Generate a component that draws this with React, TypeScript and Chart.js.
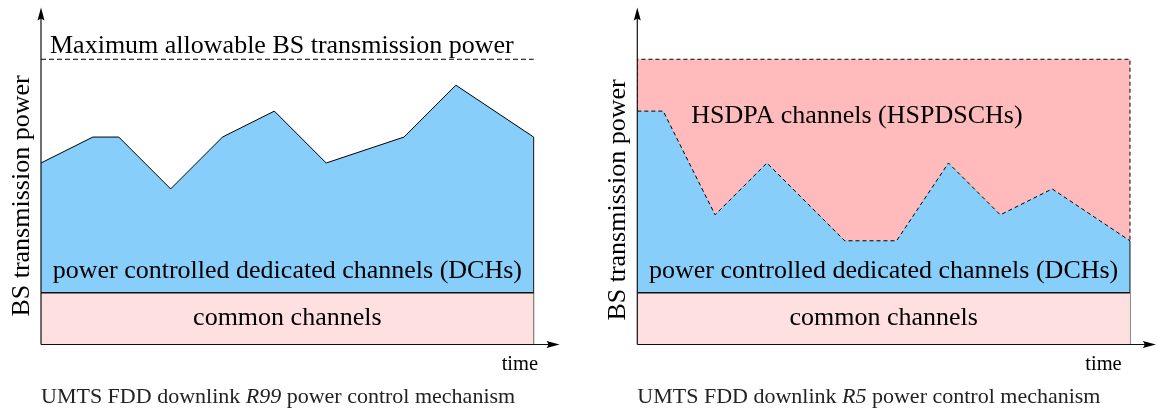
import React, { useEffect, useRef } from 'react';
import { Chart, registerables } from 'chart.js';

Chart.register(...registerables);

// ---- data ----
const leftTimes = [0, 2, 3, 5, 7, 9, 11, 14, 16, 19];
const leftDch = [7, 8, 8, 6, 8, 9, 7, 8, 10, 8];
const rightTimes = [0, 1, 3, 5, 8, 10, 12, 14, 16, 19];
const rightDch = [9, 9, 5, 7, 4, 4, 7, 5, 6, 4];
const commonLevel = 2;
const maxPower = 11;
const timeStart = 0;
const timeEnd = 19;
const axisXMax = 20;
const axisYMax = 13;

const yTitle = 'BS transmission power';
const xTitle = 'time';
const maxLabel = 'Maximum allowable BS transmission power';
const dchLabel = 'power controlled dedicated channels (DCHs)';
const commonLabel = 'common channels';
const hsdpaLabel = 'HSDPA channels (HSPDSCHs)';
const leftCaption = ['UMTS FDD downlink ', 'R99', ' power control mechanism'];
const rightCaption = ['UMTS FDD downlink ', 'R5', ' power control mechanism'];

const BLUE = '#87CEFA';
const HSDPA_PINK = '#FFBBBB';
const COMMON_PINK = '#FFE0E0';
const SERIF = '"Liberation Serif", "Times New Roman", serif';

const pts = (xs: number[], ys: number[]) => xs.map((x, i) => ({ x, y: ys[i] }));

type PanelKind = 'left' | 'right';

function makePlugin(kind: PanelKind) {
  return {
    id: 'annot_' + kind,
    afterDatasetsDraw(chart: any) {
      const { ctx } = chart;
      const xs = chart.scales.x;
      const ys = chart.scales.y;
      const x0 = xs.getPixelForValue(0);
      const y0 = ys.getPixelForValue(0);
      const xEnd = xs.getPixelForValue(axisXMax);
      const yTop = ys.getPixelForValue(axisYMax);
      const xLast = xs.getPixelForValue(timeEnd);
      const xMid = xs.getPixelForValue((timeStart + timeEnd) / 2);

      ctx.save();
      // axes
      ctx.strokeStyle = '#111';
      ctx.fillStyle = '#000';
      ctx.lineWidth = 1.2;
      ctx.setLineDash([]);
      ctx.beginPath();
      ctx.moveTo(x0, y0);
      ctx.lineTo(x0, yTop + 10);
      ctx.moveTo(x0, y0);
      ctx.lineTo(xEnd - 10, y0);
      ctx.stroke();
      // arrowheads
      ctx.beginPath();
      ctx.moveTo(x0, yTop);
      ctx.lineTo(x0 - 3.5, yTop + 13);
      ctx.lineTo(x0, yTop + 11);
      ctx.lineTo(x0 + 3.5, yTop + 13);
      ctx.closePath();
      ctx.fill();
      ctx.beginPath();
      ctx.moveTo(xEnd, y0);
      ctx.lineTo(xEnd - 13, y0 - 3.5);
      ctx.lineTo(xEnd - 11, y0);
      ctx.lineTo(xEnd - 13, y0 + 3.5);
      ctx.closePath();
      ctx.fill();

      // texts
      ctx.fillStyle = '#000';
      ctx.font = '26px ' + SERIF;
      ctx.textBaseline = 'alphabetic';

      // y title
      ctx.save();
      ctx.translate(x0 - 12, kind === 'left' ? 196 : 200);
      ctx.rotate(-Math.PI / 2);
      ctx.textAlign = 'center';
      ctx.fillText(yTitle, 0, 0);
      ctx.restore();

      const yCommon = ys.getPixelForValue(commonLevel);
      const yMax = ys.getPixelForValue(maxPower);

      ctx.textAlign = 'center';
      ctx.fillText(dchLabel, xMid, yCommon - 14.5);
      ctx.fillText(commonLabel, xMid, y0 - 19.5);

      ctx.textAlign = 'left';
      if (kind === 'left') {
        ctx.fillText(maxLabel, x0 + 9, yMax - 6.3);
      } else {
        ctx.fillText(hsdpaLabel, x0 + 54, yMax + 63.5);
      }

      // time label
      ctx.font = '20.5px ' + SERIF;
      ctx.textAlign = 'left';
      ctx.fillText(xTitle, kind === 'left' ? xLast - 32 : xLast - 44.7, y0 + 25.5);

      // caption
      const cap = kind === 'left' ? leftCaption : rightCaption;
      ctx.fillStyle = '#222';
      let cx = x0;
      const cy = y0 + 58.5;
      cap.forEach((part, i) => {
        ctx.font = (i === 1 ? 'italic ' : '') + '22px ' + SERIF;
        ctx.fillText(part, cx, cy);
        cx += ctx.measureText(part).width;
      });
      ctx.restore();
    },
  };
}

function buildDatasets(kind: PanelKind) {
  const common = {
    data: [
      { x: timeStart, y: commonLevel },
      { x: timeEnd, y: commonLevel },
    ],
    fill: 'origin',
    backgroundColor: COMMON_PINK,
    borderColor: '#111',
    borderWidth: 1.5,
    order: 0,
  };
  if (kind === 'left') {
    return [
      common,
      {
        data: [
          { x: timeEnd, y: 0 },
          { x: timeEnd, y: leftDch[leftDch.length - 1] },
        ],
        fill: false,
        borderColor: '#111',
        borderWidth: 1,
        order: 0,
      },
      {
        data: pts(leftTimes, leftDch),
        fill: { value: commonLevel },
        backgroundColor: BLUE,
        borderColor: '#000',
        borderWidth: 1,
        order: 1,
      },
      {
        data: [
          { x: timeStart, y: maxPower },
          { x: timeEnd, y: maxPower },
        ],
        fill: false,
        borderColor: '#000',
        borderWidth: 1,
        borderDash: [5, 3],
        order: 2,
      },
    ];
  }
  return [
    common,
    {
      data: [
        { x: timeEnd, y: 0 },
        { x: timeEnd, y: rightDch[rightDch.length - 1] },
      ],
      fill: false,
      borderColor: '#111',
      borderWidth: 1,
      order: 0,
    },
    {
      data: pts(rightTimes, rightDch),
      fill: { value: commonLevel },
      backgroundColor: BLUE,
      borderColor: '#000',
      borderWidth: 1,
      borderDash: [4, 3],
      order: 1,
    },
    {
      data: [
        { x: timeStart, y: rightDch[0] },
        { x: timeStart, y: maxPower },
        { x: timeEnd, y: maxPower },
        { x: timeEnd, y: rightDch[rightDch.length - 1] },
      ],
      fill: { value: commonLevel },
      backgroundColor: HSDPA_PINK,
      borderColor: '#000',
      borderWidth: 1,
      borderDash: [4, 3],
      order: 3,
    },
  ];
}

function Panel({ kind, left }: { kind: PanelKind; left: number }) {
  const ref = useRef<HTMLCanvasElement | null>(null);
  useEffect(() => {
    if (!ref.current) return;
    const padLeft = kind === 'left' ? 41 : 58.3;
    const chart = new Chart(ref.current, {
      type: 'line',
      data: {
        datasets: buildDatasets(kind).map((d: any) => ({
          pointRadius: 0,
          pointHoverRadius: 0,
          tension: 0,
          ...d,
        })),
      },
      options: {
        animation: false,
        responsive: false,
        maintainAspectRatio: false,
        events: [],
        layout: {
          padding: {
            left: padLeft,
            right: 579 - padLeft - 518.6,
            top: 7.4,
            bottom: 63.5,
          },
        },
        plugins: {
          legend: { display: false },
          tooltip: { enabled: false },
          title: { display: false },
        },
        scales: {
          x: { type: 'linear', min: 0, max: axisXMax, display: false },
          y: { type: 'linear', min: 0, max: axisYMax, display: false },
        },
      } as any,
      plugins: [makePlugin(kind)],
    });
    return () => chart.destroy();
  }, [kind]);
  return (
    <canvas
      ref={ref}
      width={579}
      height={408}
      style={{ position: 'absolute', left, top: 0, width: 579, height: 408 }}
    />
  );
}

export default function App() {
  return (
    <div style={{ position: 'absolute', left: 0, top: 0, width: 1158, height: 408, background: '#fff' }}>
      <Panel kind="left" left={0} />
      <Panel kind="right" left={579} />
    </div>
  );
}
